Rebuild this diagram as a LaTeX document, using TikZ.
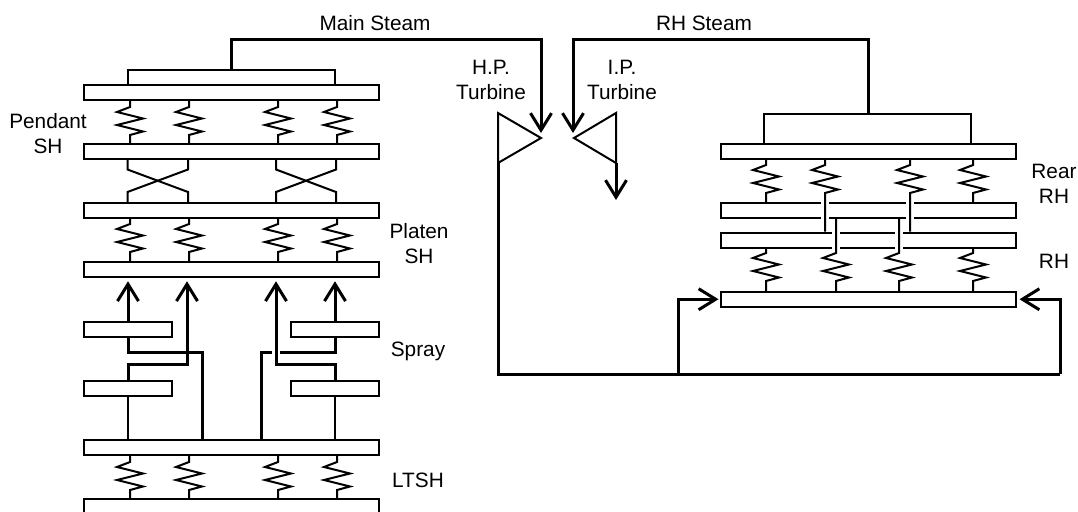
\documentclass[tikz,border=0pt]{standalone}
\usepackage{fontspec}
\setmainfont{Liberation Sans}
\usetikzlibrary{arrows.meta, positioning}

\newcommand{\coil}[4]{
\draw[pipe] (#1.south -| #3,0) -- (#3,#4) -- ++(-13,5) -- ++(26,6.5) -- ++(-26,6.5)
    -- ++(26,6.5) -- ++(-13,3.5) -- (#2.north -| #3,0);
}

\begin{document}
\begin{tikzpicture}[
    x=1pt,
    y=-1pt,
    node distance=42.25pt,
    font=\fontsize{20.8pt}{25pt}\selectfont,
    bar/.style={
        draw,
        fill=white,
        line width=2pt,
        inner sep=0pt,
        minimum width=295pt,
        minimum height=15pt
    },
    spraybox/.style={
        bar,
        minimum width=88pt
    },
    label/.style={
        align=center,
        inner sep=0pt
    },
    pipe/.style={
        line width=2pt
    },
    steam/.style={
        line width=3pt
    },
    flow/.style={
        steam,
        -{Straight Barb[length=17pt,width=21pt]}
    },
    gap/.style={
        draw=white,
        line width=8pt
    }
]

\clip (0,0) rectangle (1078,511);

% superheater side
\node[bar] (pendtop) at (231.5,92) {};
\node[bar, below=of pendtop] (pendbot) {};
\node[bar, below=of pendbot] (plattop) {};
\node[bar, below=of plattop] (platbot) {};

\node[spraybox, below right=42.25pt and 0pt of platbot.south west] (sprayla) {};
\node[spraybox, below=of sprayla] (spraylb) {};
\node[spraybox, below left=42.25pt and 0pt of platbot.south east] (sprayra) {};
\node[spraybox, below=of sprayra] (sprayrb) {};

\node[bar, below=of spraylb.south -| pendtop.south, anchor=north] (ltshtop) {};
\node[bar, below=of ltshtop] (ltshbot) {};

\foreach \x in {130,189,278,337} {
    \coil{pendtop}{pendbot}{\x}{107}
    \coil{plattop}{platbot}{\x}{224}
    \coil{ltshtop}{ltshbot}{\x}{462}
}

% crossovers
\foreach \xa/\xb in {127.5/188,276/336} {
    \draw[pipe] (pendbot.south -| \xa,0) -- (\xa,169.5) -- (\xb,192) -- (plattop.north -| \xb,0);
    \draw[pipe] (pendbot.south -| \xb,0) -- (\xb,169.5) -- (\xa,192) -- (plattop.north -| \xa,0);
}

% spray lines
\draw[flow, shorten >=3pt] (sprayla.north) -- (platbot.south -| sprayla.north);
\draw[flow, shorten >=3pt] (sprayra.north) -- (platbot.south -| sprayra.north);
\draw[steam] (sprayla.south) -- ++(0,15) -| (ltshtop.north -| 202,0);
\draw[steam] (sprayra.south) -- ++(0,15) -| (ltshtop.north -| 261,0);
\draw[gap] (276,344) -- (276,358);
\draw[flow, shorten >=3pt] (spraylb.north) -- ++(0,-15) -| (platbot.south -| 187,0);
\draw[flow, shorten >=3pt] (sprayrb.north) -- ++(0,-15) -| (platbot.south -| 276,0);
\draw[pipe] (spraylb.south) -- (ltshtop.north -| spraylb.south);
\draw[pipe] (sprayrb.south) -- (ltshtop.north -| sprayrb.south);

% reheater side
\node[bar] (reartop) at (868,151) {};
\node[bar, below=of reartop] (rearbot) {};
\node[bar, below=12.75pt of rearbot] (rhtop) {};
\node[bar, below=of rhtop] (rhbot) {};

\foreach \x in {825,910} {
    \draw[gap] (rearbot.north -| \x,0) -- (rearbot.south -| \x,0);
}
\foreach \x in {836,899} {
    \draw[gap] (rhtop.north -| \x,0) -- (rhtop.south -| \x,0);
}

\coil{reartop}{rearbot}{766}{165}
\coil{reartop}{rhtop}{825}{165}
\coil{reartop}{rhtop}{910}{165}
\coil{reartop}{rearbot}{973}{165}
\coil{rhtop}{rhbot}{766}{253}
\coil{rearbot}{rhbot}{836}{253}
\coil{rearbot}{rhbot}{899}{253}
\coil{rhtop}{rhbot}{973}{253}

% turbines
\coordinate (hptop) at (498,113);
\coordinate (hptip) at (541,138);
\coordinate (hpbot) at (498,163);
\coordinate (hpin) at (541,133);
\coordinate (iptop) at (616,113);
\coordinate (iptip) at (574,138);
\coordinate (ipbot) at (616,163);
\coordinate (ipin) at (573,133);
\coordinate (ipout) at (616,200);

\draw[pipe] (hptop) -- (hptip) -- (hpbot) -- cycle;
\draw[pipe] (iptop) -- (iptip) -- (ipbot) -- cycle;

% steam lines
\draw[pipe] (pendtop.north -| 127.5,0) |- (335,70) -- (pendtop.north -| 335,0);
\draw[flow] (231,70) -- (231,40) -| (hpin);

\draw[pipe] (reartop.north -| 764,0) |- (971,114) -- (reartop.north -| 971,0);
\draw[flow] (868,114) -- (868,40) -| (ipin);

\draw[flow] (ipbot) -- (ipout);

\coordinate (rhleft) at (678,374);
\draw[steam] (hpbot) |- (1060,374);
\draw[flow] (1060,374) |- ([xshift=3pt]rhbot.east);
\draw[flow] (rhleft) |- ([xshift=-1pt]rhbot.west);

% labels
\node[label] (mainlbl) at (375,23) {Main Steam};
\node[label] (rhlbl) at (704,23) {RH Steam};
\node[label] (hplbl) at (491,80) {H.P.\\Turbine};
\node[label] (iplbl) at (622,80) {I.P.\\Turbine};
\node[label] (pendlbl) at (48,134) {Pendant\\SH};
\node[label] (platlbl) at (419,244) {Platen\\SH};
\node[label] (spraylbl) at (418,351) {Spray};
\node[label] (ltshlbl) at (418,480) {LTSH};
\node[label] (rearlbl) at (1054,184) {Rear\\RH};
\node[label] (rhslbl) at (1054,261) {RH};

\end{tikzpicture}
\end{document}
